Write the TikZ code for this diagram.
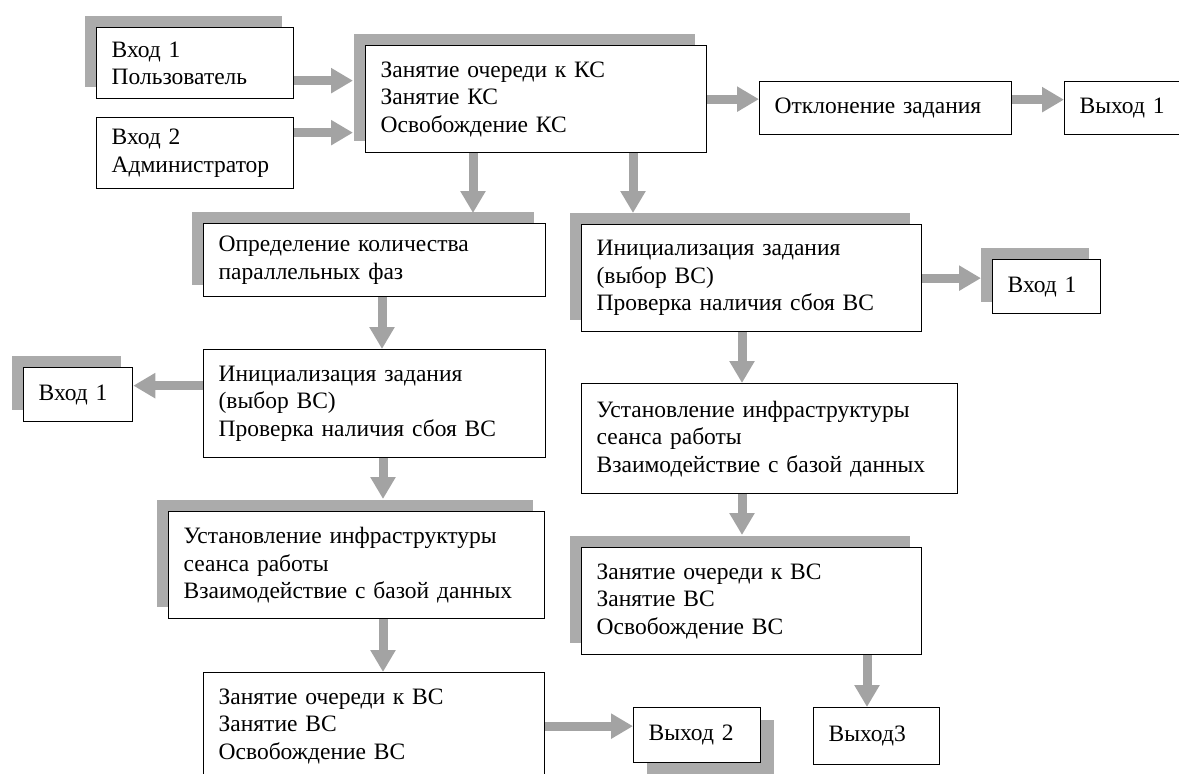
\documentclass[tikz,border=0pt]{standalone}
\usepackage{fontspec}
\setmainfont{Liberation Serif}
\usetikzlibrary{arrows.meta,calc,shadows}
\definecolor{argray}{HTML}{A3A3A3}
\definecolor{shgray}{HTML}{ABABAB}

\begin{document}
\begin{tikzpicture}[x=1pt,y=-1pt,font=\fontsize{23.5}{27.5}\selectfont,
  bx/.style={rectangle,draw,line width=1.3pt,fill=white,anchor=north west,align=left,inner xsep=15pt,inner ysep=0pt},
  sh/.style={general shadow={fill=shgray,shadow xshift=-12pt,shadow yshift=12pt}},
  shr/.style={general shadow={fill=shgray,shadow xshift=13pt,shadow yshift=-12pt}},
  ar/.style={-{Triangle[width=24pt,length=22pt]},line width=9pt,argray}]
  \useasboundingbox (0,0) rectangle (1179,774);
  \node[bx,sh,text width=167pt,minimum height=71pt] (in1) at (96,27) {Вход 1\\Пользователь};
  \node[bx,text width=167pt,minimum height=71pt] (in2) at (96,117) {Вход 2\\Администратор};
  \node[bx,sh,text width=311pt,minimum height=107pt] (kc) at (365,45) {Занятие очереди к КС\\Занятие КС\\Освобождение КС};
  \node[bx,text width=222pt,minimum height=53pt] (otk) at (759,81) {Отклонение задания};
  \node[bx,text width=100pt,minimum height=53pt] (out1) at (1064,81) {Выход 1};
  \node[bx,sh,text width=312pt,minimum height=73pt] (opr) at (203,223) {Определение количества\\параллельных фаз};
  \node[bx,sh,text width=310pt,minimum height=107pt] (initR) at (581,224) {Инициализация задания\\(выбор ВС)\\Проверка наличия сбоя ВС};
  \node[bx,sh,text width=78pt,minimum height=54pt] (inR) at (992,259) {Вход 1};
  \node[bx,text width=312pt,minimum height=108pt] (initL) at (203,349) {Инициализация задания\\(выбор ВС)\\Проверка наличия сбоя ВС};
  \node[bx,sh,text width=79pt,minimum height=54pt] (inL) at (23,367) {Вход 1};
  \node[bx,sh,text width=346pt,minimum height=107pt] (ustL) at (168,511) {Установление инфраструктуры\\сеанса работы\\Взаимодействие с базой данных};
  \node[bx,text width=311pt,minimum height=107pt] (zanL) at (203,672) {Занятие очереди к ВС\\Занятие ВС\\Освобождение ВС};
  \node[bx,shr,text width=97pt,minimum height=55pt] (out2) at (633,707) {Выход 2};
  \node[bx,text width=346pt,minimum height=110pt] (ustR) at (581,383) {Установление инфраструктуры\\сеанса работы\\Взаимодействие с базой данных};
  \node[bx,sh,text width=310pt,minimum height=107pt] (zanR) at (581,547) {Занятие очереди к ВС\\Занятие ВС\\Освобождение ВС};
  \node[bx,text width=96pt,minimum height=57pt] (out3) at (813,707) {Выход3};
  \draw[ar] ($(in1.east)+(0,17.5)$) -- ($(in1.east -| kc.west)+(-12,17.5)$);
  \draw[ar] ($(in2.east)+(0,-20.5)$) -- ($(in2.east -| kc.west)+(-12,-20.5)$);
  \draw[ar] (kc.east) -- (kc.east -| otk.west);
  \draw[ar] ($(otk.east)+(0,-8.5)$) -- ($(otk.east -| out1.west)+(0,-8.5)$);
  \draw[ar] ($(kc.south west)+(108,0)$) -- ($(kc.south west |- opr.north)+(108,-10)$);
  \draw[ar] ($(kc.south west)+(268,0)$) -- ($(kc.south west |- initR.north)+(268,-11)$);
  \draw[ar] (initR.east) -- ($(initR.east -| inR.west)+(-11,0)$);
  \draw[ar] ($(opr.south west)+(179,0)$) -- ($(opr.south west |- initL.north)+(179,0)$);
  \draw[ar] ($(initL.west)+(0,-18)$) -- ($(initL.west -| inL.east)+(0,-18)$);
  \draw[ar] ($(initL.south west)+(180,0)$) -- ($(initL.south west |- ustL.north)+(180,-12)$);
  \draw[ar] ($(ustL.south west)+(215,0)$) -- ($(ustL.south west |- zanL.north)+(215,0)$);
  \draw[ar] (zanL.east) -- (zanL.east -| out2.west);
  \draw[ar] ($(initR.south west)+(161,0)$) -- ($(initR.south west |- ustR.north)+(161,0)$);
  \draw[ar] ($(ustR.south west)+(161,0)$) -- ($(ustR.south west |- zanR.north)+(161,-12)$);
  \draw[ar] ($(zanR.south west)+(286,0)$) -- ($(zanR.south west |- out3.north)+(286,0)$);
\end{tikzpicture}
\end{document}
